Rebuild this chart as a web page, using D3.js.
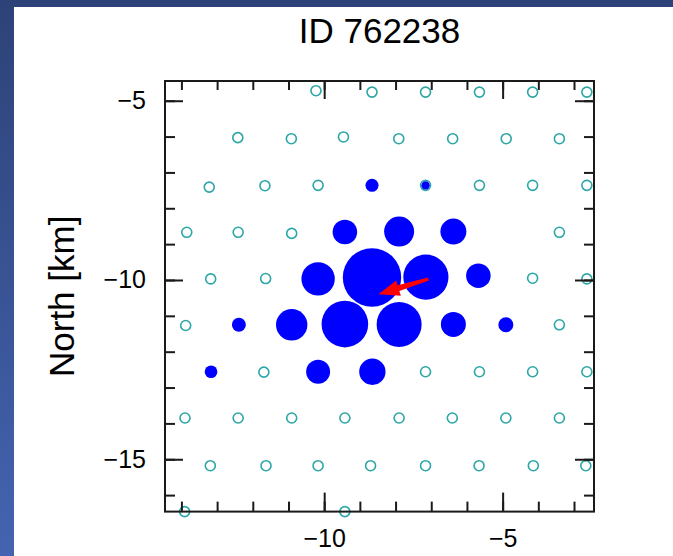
<!DOCTYPE html>
<html>
<head>
<meta charset="utf-8">
<script src="https://cdn.jsdelivr.net/npm/d3@7"></script>
<style>
  html, body { margin: 0; padding: 0; background: #ffffff; }
  svg { display: block; }
  text { font-family: "Liberation Sans", Arial, Helvetica, sans-serif; fill: #000; }
</style>
</head>
<body>
<svg id="chart" width="673" height="556"></svg>
<script>
// Event identifier shown as the title
const eventTitle = "ID 762238";

// Detector stations, east / north positions in km
const stationEast = [
  -10.23, -8.66, -7.16, -5.65, -4.16, -2.64,
  -12.42, -10.92, -9.46, -7.91, -6.40, -4.90, -3.41,
  -13.22, -11.66, -10.17, -8.66, -7.16, -5.65, -4.16, -2.64,
  -13.85, -12.41, -10.91, -9.42, -7.90, -6.38, -3.41,
  -13.18, -11.64, -10.17, -8.66, -7.15, -5.68, -4.16, -2.64,
  -13.88, -12.39, -10.91, -9.42, -7.90, -6.38, -4.91, -3.41,
  -13.17, -11.69, -10.17, -8.65, -7.16, -5.65, -4.16, -2.64,
  -13.90, -12.41, -10.91, -9.42, -7.90, -6.41, -4.91, -3.41,
  -13.19, -11.63, -10.17, -8.70, -7.16, -5.66, -4.14, -2.67,
  -13.91, -9.42
];
const stationNorth = [
  -4.72, -4.76, -4.76, -4.76, -4.76, -4.76,
  -6.03, -6.06, -6.01, -6.06, -6.06, -6.06, -6.06,
  -7.41, -7.37, -7.36, -7.36, -7.36, -7.36, -7.36, -7.36,
  -8.67, -8.67, -8.70, -8.66, -8.65, -8.65, -8.67,
  -9.97, -9.96, -9.97, -9.93, -9.92, -9.88, -9.95, -9.97,
  -11.27, -11.25, -11.25, -11.23, -11.24, -11.24, -11.25, -11.25,
  -12.56, -12.57, -12.56, -12.56, -12.56, -12.56, -12.56, -12.56,
  -13.85, -13.85, -13.85, -13.85, -13.85, -13.85, -13.85, -13.85,
  -15.18, -15.18, -15.18, -15.18, -15.18, -15.18, -15.18, -15.18,
  -16.46, -16.46
];
// Recorded signal per station (0 = not triggered)
const stationSignal = [
  0, 0, 0, 0, 0, 0,
  0, 0, 0, 0, 0, 0, 0,
  0, 0, 0, 50, 20, 0, 0, 0,
  0, 0, 0, 177, 264, 198, 0,
  0, 0, 327, 1000, 599, 177, 0, 0,
  0, 57, 289, 637, 594, 183, 66, 0,
  47, 0, 169, 204, 0, 0, 0, 0,
  0, 0, 0, 0, 0, 0, 0, 0,
  0, 0, 0, 0, 0, 0, 0, 0,
  0, 0
];

// Reconstructed shower axis projection: start and end point, km
const axisStart = [-7.08, -9.97];
const axisEnd = [-8.48, -10.40];

// Axis ticks
const minorTicks = [-16, -15, -14, -13, -12, -11, -10, -9, -8, -7, -6, -5, -4, -3];
const majorTicks = [-15, -10, -5];
const axisTitleY = "North [km]";

const svg = d3.select("#chart");
const W = 673, H = 556;

// Page background: dark frame strips along the top and left edge
const defs = svg.append("defs");
const grad = defs.append("linearGradient").attr("id", "edge")
  .attr("x1", 0).attr("y1", 0).attr("x2", 0).attr("y2", 1);
grad.append("stop").attr("offset", "0%").attr("stop-color", "#2d4277");
grad.append("stop").attr("offset", "100%").attr("stop-color", "#4464b1");
svg.append("rect").attr("x", 0).attr("y", 0).attr("width", W).attr("height", H).attr("fill", "#ffffff");
svg.append("rect").attr("x", 0).attr("y", 0).attr("width", 14).attr("height", H).attr("fill", "url(#edge)");
svg.append("rect").attr("x", 0).attr("y", 0).attr("width", W).attr("height", 7).attr("fill", "#2d4278");

// Plot frame
const pLeft = 165, pRight = 594, pTop = 81, pBottom = 511.6;
const x = d3.scaleLinear().domain([-14.46, -2.44]).range([pLeft, pRight]);
const y = d3.scaleLinear().domain([-4.45, -16.46]).range([pTop, pBottom]);
const r = d3.scaleSqrt().domain([0, 1000]).range([0, 29.2]);

const stations = stationEast.map((e, i) => ({ e, n: stationNorth[i], s: stationSignal[i] }));

// All stations: open rings
svg.append("g").selectAll("circle").data(stations).join("circle")
  .attr("cx", d => x(d.e)).attr("cy", d => y(d.n)).attr("r", 5)
  .attr("fill", "none").attr("stroke", "#2ca6a6").attr("stroke-width", 1.6);

// Triggered stations: filled blue discs sized by signal
svg.append("g").selectAll("circle").data(stations.filter(d => d.s > 0)).join("circle")
  .attr("cx", d => x(d.e)).attr("cy", d => y(d.n)).attr("r", d => r(d.s))
  .attr("fill", "#0000ff");

// Shower axis arrow
(function () {
  const ax = x(axisStart[0]), ay = y(axisStart[1]);
  const bx = x(axisEnd[0]), by = y(axisEnd[1]);
  const len = Math.hypot(bx - ax, by - ay);
  const ux = (bx - ax) / len, uy = (by - ay) / len;
  const nx = -uy, ny = ux;
  const headL = 21, headW = 8, shaftW0 = 1.6, shaftW1 = 3;
  const hx = bx - ux * headL, hy = by - uy * headL;
  const pts = [
    [ax + nx * shaftW0, ay + ny * shaftW0],
    [hx + nx * shaftW1, hy + ny * shaftW1],
    [hx + nx * headW, hy + ny * headW],
    [bx, by],
    [hx - nx * headW, hy - ny * headW],
    [hx - nx * shaftW1, hy - ny * shaftW1],
    [ax - nx * shaftW0, ay - ny * shaftW0]
  ];
  svg.append("path").attr("d", d3.line()(pts) + "Z").attr("fill", "#ff0000");
})();

// Axes: ticks on all four sides, pointing inward
function drawAxis(axisFn, transform, values, size, labels, padding) {
  const a = axisFn.tickValues(values).tickSize(size).tickPadding(padding)
    .tickFormat(labels ? d => d3.format("d")(d).replace("-", "\u2212") : () => "");
  const g = svg.append("g").attr("transform", transform).call(a);
  g.select(".domain").remove();
  g.selectAll("line").attr("stroke", "#1a1a1a").attr("stroke-width", 2);
  g.selectAll("text").style("font-size", "25px").attr("fill", "#000")
    .style("font-family", "'Liberation Sans', Arial, sans-serif");
  return g;
}
const xMinor = minorTicks.filter(v => v >= -14.46 && v <= -2.44);
const yMinor = minorTicks.filter(v => v <= -4.45 && v >= -16.46);
const xMajor = majorTicks.filter(v => v >= -14.46 && v <= -2.44);
const yMajor = majorTicks;

drawAxis(d3.axisBottom(x), `translate(0,${pBottom})`, xMinor, -10, false, 0);
drawAxis(d3.axisTop(x), `translate(0,${pTop})`, xMinor, -9, false, 0);
drawAxis(d3.axisLeft(y), `translate(${pLeft},0)`, yMinor, -10, false, 0);
drawAxis(d3.axisRight(y), `translate(${pRight},0)`, yMinor, -10, false, 0);

drawAxis(d3.axisBottom(x), `translate(0,${pBottom})`, xMajor, -19, true, 17.5);
drawAxis(d3.axisTop(x), `translate(0,${pTop})`, xMajor, -18, false, 0);
drawAxis(d3.axisLeft(y), `translate(${pLeft},0)`, yMajor, -18, true, 19);
drawAxis(d3.axisRight(y), `translate(${pRight},0)`, yMajor, -19, false, 0);

svg.append("rect").attr("x", pLeft).attr("y", pTop)
  .attr("width", pRight - pLeft).attr("height", pBottom - pTop)
  .attr("fill", "none").attr("stroke", "#1a1a1a").attr("stroke-width", 2);

// Title and axis title
svg.append("text").attr("x", (pLeft + pRight) / 2).attr("y", 43.3)
  .attr("text-anchor", "middle").style("font-size", "35px").text(eventTitle);
svg.append("text")
  .attr("transform", `translate(74,${(pTop + pBottom) / 2}) rotate(-90)`)
  .attr("text-anchor", "middle").style("font-size", "35px").text(axisTitleY);
</script>
</body>
</html>
